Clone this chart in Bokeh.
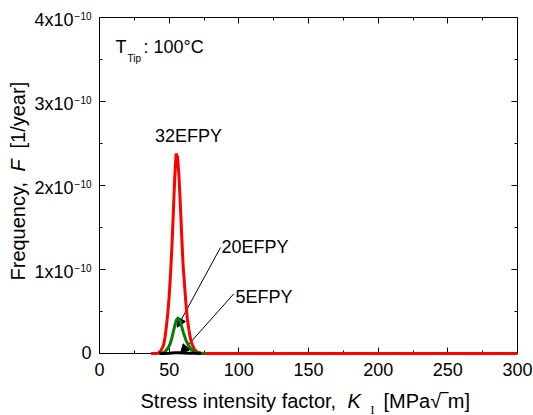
import math
from bokeh.plotting import figure
from bokeh.models import Range1d, LinearAxis, Label, Arrow, NormalHead, FixedTicker
from bokeh.embed import file_html
from bokeh.resources import INLINE

# ---------------- data (frequency in units of 1e-10 1/year) ----------------
k_32 = [37, 40, 42, 44, 46, 47, 48, 49, 50, 51, 52, 53, 54, 55, 56, 57, 58, 59, 60,
        62, 63, 64, 65, 66, 68, 70, 72, 75, 80, 300]
f_32 = [0, 0, 0.003, 0.03, 0.10, 0.19, 0.32, 0.48, 0.68, 0.95, 1.28, 1.68, 2.10, 2.38,
        2.34, 2.12, 1.78, 1.40, 1.05, 0.60, 0.42, 0.30, 0.20, 0.13, 0.05, 0.02, 0.006,
        0.001, 0, 0]

k_20 = [43, 45, 47, 49, 50, 51, 52, 53, 54, 55, 56, 57, 58, 59, 60, 61, 62, 64, 66,
        68, 70, 73, 76]
f_20 = [0, 0.005, 0.02, 0.06, 0.09, 0.13, 0.19, 0.26, 0.33, 0.39, 0.42, 0.41, 0.38,
        0.32, 0.26, 0.21, 0.16, 0.09, 0.045, 0.02, 0.008, 0.002, 0]

k_5 = [43, 46, 50, 54, 57, 60, 64, 68, 73]
f_5 = [0, 0.001, 0.004, 0.008, 0.009, 0.007, 0.004, 0.002, 0]

x_ticks = [0, 50, 100, 150, 200, 250, 300]
y_ticks = [0, 1, 2, 3, 4]
y_tick_base = ["0", "1x10", "2x10", "3x10", "4x10"]
y_tick_exp = ["", "\u221210", "\u221210", "\u221210", "\u221210"]

series_labels = ["32EFPY", "20EFPY", "5EFPY"]

# ---------------- layout ----------------
W, H = 533, 415
FL, FR, FT, FB = 99, 517, 17, 353   # plot box edges in pixels
X0, X1, Y0, Y1 = 0, 300, 0, 4

def dx(px):
    return X0 + (px - FL) / (FR - FL) * (X1 - X0)

def dy(py):
    return Y0 + (FB - py) / (FB - FT) * (Y1 - Y0)

def sy_of(v):
    return FB - (v - Y0) / (Y1 - Y0) * (FB - FT)

FONT = "Liberation Sans"

# the frame covers the whole canvas; the axes are pinned to the data box
p = figure(width=W, height=H,
           x_range=Range1d(dx(0), dx(W)), y_range=Range1d(dy(H), dy(0)),
           output_backend="svg", toolbar_location=None,
           min_border=0, min_border_left=0, min_border_right=0,
           min_border_top=0, min_border_bottom=0)
p.grid.visible = False
p.outline_line_color = None
p.background_fill_color = "white"
p.border_fill_color = "white"

x_minor = [(a + b) / 2 for a, b in zip(x_ticks[:-1], x_ticks[1:])]
y_minor = [(a + b) / 2 for a, b in zip(y_ticks[:-1], y_ticks[1:])]

p.add_layout(LinearAxis(), "above")
p.add_layout(LinearAxis(), "right")

p.below[0].fixed_location = Y0
p.above[0].fixed_location = Y1
p.left[0].fixed_location = X0
p.right[0].fixed_location = X1

for ax in p.xaxis:
    ax.ticker = FixedTicker(ticks=x_ticks, minor_ticks=x_minor)
    ax.bounds = (X0, X1)
for ax in p.yaxis:
    ax.ticker = FixedTicker(ticks=y_ticks, minor_ticks=y_minor)
    ax.bounds = (Y0, Y1)

for ax in p.xaxis + p.yaxis:
    ax.major_tick_in = 6
    ax.major_tick_out = 0
    ax.minor_tick_in = 3
    ax.minor_tick_out = 0
    ax.axis_line_color = "black"
    ax.axis_line_width = 1
    ax.major_tick_line_color = "black"
    ax.minor_tick_line_color = "black"
    ax.axis_label = None

for ax in [p.left[0], p.above[0], p.right[0]]:
    ax.major_label_text_font_size = "0px"
    ax.major_label_text_color = None
    ax.major_label_standoff = 0

bx = p.below[0]
bx.major_label_text_font = FONT
bx.major_label_text_font_size = "18px"
bx.major_label_text_color = "black"
bx.major_label_standoff = 9

# ---------------- curves ----------------
r32 = p.line(k_32, f_32, line_color="#ff0000", line_width=3)
r20 = p.line(k_20, f_20, line_color="#008000", line_width=3)
r5 = p.line(k_5, f_5, line_color="black", line_width=3)
for r in (r32, r20, r5):
    r.level = "overlay"

# ---------------- text helper (canvas pixels, vertically centred) ----------------
def lab(px, py, text, size="20px", style="normal", font=FONT, angle=0.0,
        align="left"):
    p.add_layout(Label(x=px, y=py, x_units="canvas", y_units="canvas", text=text,
                       text_font=font, text_font_size=size, text_font_style=style,
                       text_color="black", text_align=align, text_baseline="middle",
                       angle=angle))

# y tick labels with exponent
for t, base, ex in zip(y_ticks, y_tick_base, y_tick_exp):
    ty = sy_of(t)
    if ex:
        lab(FL - 26, ty + 2, base, size="18px", align="right")
        lab(FL - 8, ty - 2, ex, size="10px", align="right")
    else:
        lab(FL - 8, ty - 1, base, size="18px", align="right")

# x axis title
lab(140, 400, "Stress intensity factor,")
lab(347, 400, "K", style="italic")
lab(370, 409, "I", size="12px", font="Liberation Serif")
lab(383, 400, "[MPa\u221a\u203em]")

# y axis title (rotated)
lab(17.5, 280, "Frequency,", angle=math.pi / 2)
lab(17.5, 171, "F", style="italic", angle=math.pi / 2)
lab(17.5, 148, "[1/year]", angle=math.pi / 2)

# temperature note
lab(115, 46.5, "T", size="18px")
lab(127, 57.5, "Tip", size="10px")
lab(143, 46.5, ": 100\u00b0C", size="18px")

# series annotations
lab(188, 135, series_labels[0], size="18px", align="center")
lab(221, 246, series_labels[1], size="18px")
lab(235, 296, series_labels[2], size="18px")

for (sx, sy, ex_, ey) in [(220, 247, 176.7, 326.7), (233.3, 293.3, 180, 353)]:
    p.add_layout(Arrow(x_start=dx(sx), y_start=dy(sy), x_end=dx(ex_), y_end=dy(ey),
                       line_color="black", line_width=1,
                       end=NormalHead(size=9, fill_color="black", line_color="black",
                                      line_width=1)))

open("out.html", "w").write(file_html(p, INLINE))
